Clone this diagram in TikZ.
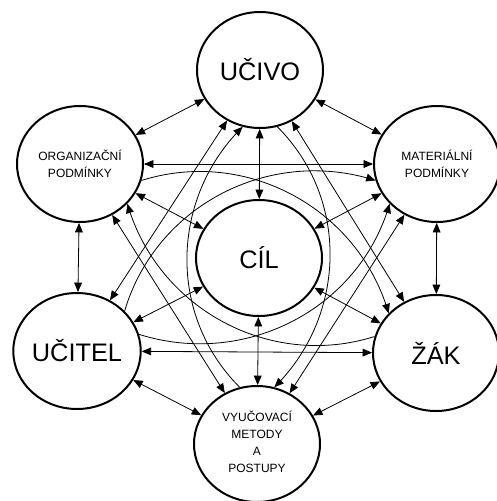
\documentclass[tikz,border=0pt]{standalone}
\usepackage{fontspec}
\setmainfont{Liberation Sans}
\usetikzlibrary{arrows, shapes.geometric}

\tikzset{
    element/.style={ellipse, draw, line width=1.5pt, minimum width=94.5pt, minimum height=87pt, inner sep=0pt, align=center},
    bigtext/.style={font=\fontsize{19}{22}\selectfont},
    smalltext/.style={font=\fontsize{9}{12.75}\selectfont},
}

\begin{document}
\begin{tikzpicture}[x=0.75pt, y=-0.75pt, <->, >=triangle 45, line width=0.6pt]
    \useasboundingbox (0,0) rectangle (497,501);

    \node[element, bigtext] (ucivo) at (260,70) {UČIVO};
    \node[element, smalltext] (org) at (80,164) {ORGANIZAČNÍ\\PODMÍNKY};
    \node[element, smalltext] (mat) at (437,164) {MATERIÁLNÍ\\PODMÍNKY};
    \node[element, bigtext] (cil) at (259,258) {CÍL};
    \node[element, bigtext] (ucitel) at (77,351) {UČITEL};
    \node[element, bigtext] (zak) at (436,353) {ŽÁK};
    \node[element, smalltext] (metody) at (257,444)
        {\raisebox{-5pt}{\begin{tabular}{@{}c@{}}VYUČOVACÍ\\METODY\\A\\POSTUPY\end{tabular}}};

    % straight links
    \draw (ucivo) edge (org) edge (mat) edge (cil) edge (ucitel) edge (zak)
          (org) edge (ucitel) edge (cil) edge (mat) edge (metody)
          (mat) edge (zak) edge (cil) edge (metody)
          (ucitel) edge (metody) edge (cil) edge (zak)
          (zak) edge (metody) edge (cil)
          (metody) edge (cil);

    % arcs round the goal
    \draw[->] (org.-15) to[out=17.5, in=106.5] (zak.140);
    \draw[->] (zak.165) to[out=197.5, in=-73.5] (org.-40);
    \draw[->] (ucitel.40) to[out=73.5, in=162.5] (mat.195);
    \draw[->] (ucitel.15) to[out=-17.5, in=-106.5] (mat.-140);
    \draw[->] (ucivo.-73) to[out=-45, in=45] (metody.73);
    \draw[->] (metody.107) to[out=135, in=-135] (ucivo.-107);
\end{tikzpicture}
\end{document}
